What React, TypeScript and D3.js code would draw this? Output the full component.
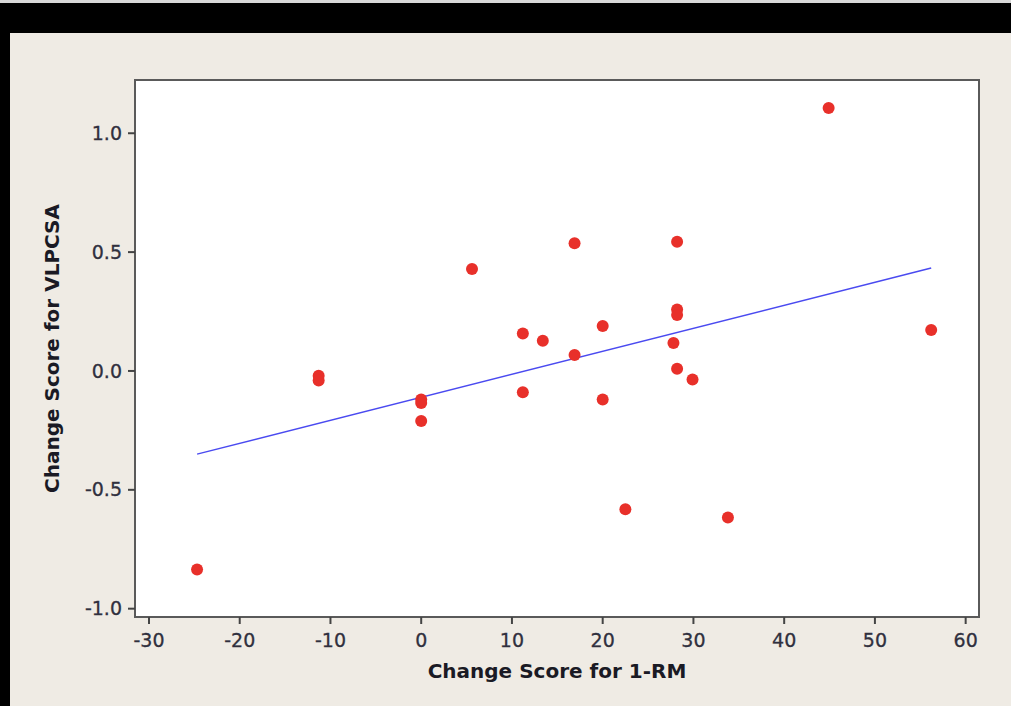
// Scatter of change scores — 1-RM vs VLPCSA, with the fitted line drawn over it.

import * as d3 from "d3";

const W = 1011, H = 706;

// change score for 1-RM (x) and for VLPCSA (y)
const rmChange = [
  -24.7, -11.3, -11.3, 0, 0, 0, 5.6, 11.2, 11.2, 13.4, 16.9, 16.9,
  20.0, 20.0, 22.5, 27.8, 28.2, 28.2, 28.2, 28.2, 29.9, 33.8, 44.9, 56.2,
];
const vlpcsaChange = [
  -0.835, -0.02, -0.04, -0.12, -0.135, -0.21, 0.429, 0.158, -0.09, 0.127, 0.537, 0.067,
  0.189, -0.12, -0.582, 0.118, 0.544, 0.259, 0.235, 0.009, -0.036, -0.616, 1.106, 0.172,
];
// fitted line endpoints as drawn
const fitX = [-24.7, 56.2];
const fitY = [-0.35, 0.433];

const xTicks = [-30, -20, -10, 0, 10, 20, 30, 40, 50, 60];
const yTicks = [-1.0, -0.5, 0.0, 0.5, 1.0];

const box = { left: 135, top: 80, right: 979, bottom: 617 };
const FONT = "'DejaVu Sans', Verdana, sans-serif";

export default function App() {
  const x = d3.scaleLinear().domain([-31.54, 61.47]).range([box.left, box.right]);
  const y = d3.scaleLinear().domain([-1.035, 1.224]).range([box.bottom, box.top]);
  const fit = d3.line<number>().x((_, i) => x(fitX[i])).y((v) => y(v));
  const fmtY = d3.format(".1f");
  const hy = (s: string) => s.replace("−", "-");

  return (
    <svg width={W} height={H} style={{ position: "fixed", left: 0, top: 0, display: "block" }}>
      <rect x={0} y={0} width={W} height={H} fill="#d8d8d8" />
      <rect x={0} y={3} width={W} height={H - 3} fill="#000" />
      <rect x={10} y={33} width={W - 10} height={H - 33} fill="#efebe4" />
      <rect x={box.left} y={box.top} width={box.right - box.left} height={box.bottom - box.top}
            fill="#fff" stroke="#5a5a5a" strokeWidth={2} />

      {xTicks.map((t) => (
        <g key={t} transform={`translate(${x(t)},${box.bottom})`}>
          <line y1={0} y2={7} stroke="#444" strokeWidth={2} />
          <text y={30} textAnchor="middle" fontFamily={FONT} fontSize={19} fill="#30303e"
                stroke="#30303e" strokeWidth={0.3}>
            {hy(d3.format("d")(t))}
          </text>
        </g>
      ))}
      {yTicks.map((t) => (
        <g key={t} transform={`translate(${box.left},${y(t)})`}>
          <line x1={0} x2={-7} stroke="#444" strokeWidth={2} />
          <text x={-13} dy="0.35em" textAnchor="end" fontFamily={FONT} fontSize={19} fill="#30303e"
                stroke="#30303e" strokeWidth={0.3}>
            {hy(fmtY(t))}
          </text>
        </g>
      ))}

      <path d={fit(fitY) ?? ""} fill="none" stroke="#4a4af0" strokeWidth={1.4} />
      {rmChange.map((v, i) => (
        <circle key={i} cx={x(v)} cy={y(vlpcsaChange[i])} r={6} fill="#e8302a" />
      ))}

      <text x={(box.left + box.right) / 2} y={678} textAnchor="middle" fontFamily={FONT}
            fontWeight="bold" fontSize={20} fill="#1a1a24">Change Score for 1-RM</text>
      <text transform={`translate(59,${(box.top + box.bottom) / 2}) rotate(-90)`} textAnchor="middle"
            fontFamily={FONT} fontWeight="bold" fontSize={20} fill="#1a1a24">Change Score for VLPCSA</text>
    </svg>
  );
}
